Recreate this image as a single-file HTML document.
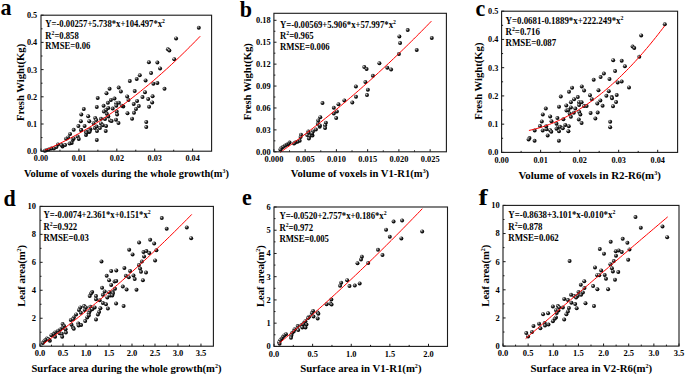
<!DOCTYPE html><html><head><meta charset="utf-8"><style>html,body{margin:0;padding:0;background:#fff;}svg{display:block;}</style></head><body>
<svg width="685" height="375" viewBox="0 0 685 375" font-family='"Liberation Serif", serif' font-weight="bold">
<defs><radialGradient id="g" cx="0.42" cy="0.4" r="0.6" fx="0.33" fy="0.3"><stop offset="0" stop-color="#e8e8e8"/><stop offset="0.3" stop-color="#6a6a6a"/><stop offset="0.65" stop-color="#141414"/><stop offset="1" stop-color="#000"/></radialGradient></defs>
<rect width="685" height="375" fill="#fff"/>
<g><circle cx="198.8" cy="27.7" r="1.98" fill="url(#g)"/><circle cx="176.1" cy="38.4" r="1.98" fill="url(#g)"/><circle cx="167.9" cy="49.3" r="1.98" fill="url(#g)"/><circle cx="169.4" cy="50.4" r="1.98" fill="url(#g)"/><circle cx="174.3" cy="59.3" r="1.98" fill="url(#g)"/><circle cx="148.9" cy="62.2" r="1.98" fill="url(#g)"/><circle cx="157.4" cy="62.6" r="1.98" fill="url(#g)"/><circle cx="160.1" cy="68.4" r="1.98" fill="url(#g)"/><circle cx="151.1" cy="73.1" r="1.98" fill="url(#g)"/><circle cx="139.8" cy="75.3" r="1.98" fill="url(#g)"/><circle cx="136.7" cy="78.9" r="1.98" fill="url(#g)"/><circle cx="129.8" cy="81.1" r="1.98" fill="url(#g)"/><circle cx="145.6" cy="80.4" r="1.98" fill="url(#g)"/><circle cx="153.4" cy="83.7" r="1.98" fill="url(#g)"/><circle cx="157.4" cy="82.9" r="1.98" fill="url(#g)"/><circle cx="109.6" cy="88.7" r="1.98" fill="url(#g)"/><circle cx="106.5" cy="93.3" r="1.98" fill="url(#g)"/><circle cx="118.7" cy="87.6" r="1.98" fill="url(#g)"/><circle cx="120.9" cy="91.6" r="1.98" fill="url(#g)"/><circle cx="164.5" cy="88.8" r="1.98" fill="url(#g)"/><circle cx="134.7" cy="91.1" r="1.98" fill="url(#g)"/><circle cx="145.0" cy="92.3" r="1.98" fill="url(#g)"/><circle cx="127.2" cy="96.5" r="1.98" fill="url(#g)"/><circle cx="142.5" cy="97.1" r="1.98" fill="url(#g)"/><circle cx="152.6" cy="96.3" r="1.98" fill="url(#g)"/><circle cx="148.2" cy="99.0" r="1.98" fill="url(#g)"/><circle cx="128.5" cy="99.9" r="1.98" fill="url(#g)"/><circle cx="137.1" cy="100.9" r="1.98" fill="url(#g)"/><circle cx="133.7" cy="104.0" r="1.98" fill="url(#g)"/><circle cx="152.2" cy="102.4" r="1.98" fill="url(#g)"/><circle cx="138.8" cy="106.1" r="1.98" fill="url(#g)"/><circle cx="136.0" cy="109.0" r="1.98" fill="url(#g)"/><circle cx="149.1" cy="106.8" r="1.98" fill="url(#g)"/><circle cx="127.5" cy="113.3" r="1.98" fill="url(#g)"/><circle cx="134.0" cy="112.8" r="1.98" fill="url(#g)"/><circle cx="132.1" cy="118.7" r="1.98" fill="url(#g)"/><circle cx="146.3" cy="122.0" r="1.98" fill="url(#g)"/><circle cx="146.3" cy="127.1" r="1.98" fill="url(#g)"/><circle cx="97.7" cy="97.9" r="1.98" fill="url(#g)"/><circle cx="110.9" cy="99.9" r="1.98" fill="url(#g)"/><circle cx="114.5" cy="98.6" r="1.98" fill="url(#g)"/><circle cx="107.9" cy="102.8" r="1.98" fill="url(#g)"/><circle cx="116.3" cy="103.2" r="1.98" fill="url(#g)"/><circle cx="118.9" cy="102.7" r="1.98" fill="url(#g)"/><circle cx="103.6" cy="105.7" r="1.98" fill="url(#g)"/><circle cx="96.8" cy="107.0" r="1.98" fill="url(#g)"/><circle cx="83.8" cy="109.0" r="1.98" fill="url(#g)"/><circle cx="108.3" cy="107.9" r="1.98" fill="url(#g)"/><circle cx="112.7" cy="108.6" r="1.98" fill="url(#g)"/><circle cx="116.3" cy="105.7" r="1.98" fill="url(#g)"/><circle cx="123.3" cy="106.5" r="1.98" fill="url(#g)"/><circle cx="121.8" cy="105.7" r="1.98" fill="url(#g)"/><circle cx="106.1" cy="110.1" r="1.98" fill="url(#g)"/><circle cx="103.9" cy="111.6" r="1.98" fill="url(#g)"/><circle cx="116.7" cy="111.6" r="1.98" fill="url(#g)"/><circle cx="117.1" cy="114.5" r="1.98" fill="url(#g)"/><circle cx="81.3" cy="114.5" r="1.98" fill="url(#g)"/><circle cx="88.2" cy="116.3" r="1.98" fill="url(#g)"/><circle cx="106.8" cy="113.8" r="1.98" fill="url(#g)"/><circle cx="95.2" cy="117.9" r="1.98" fill="url(#g)"/><circle cx="96.3" cy="120.1" r="1.98" fill="url(#g)"/><circle cx="101.0" cy="118.8" r="1.98" fill="url(#g)"/><circle cx="105.0" cy="119.0" r="1.98" fill="url(#g)"/><circle cx="108.3" cy="116.4" r="1.98" fill="url(#g)"/><circle cx="110.1" cy="120.4" r="1.98" fill="url(#g)"/><circle cx="111.6" cy="121.0" r="1.98" fill="url(#g)"/><circle cx="116.0" cy="119.7" r="1.98" fill="url(#g)"/><circle cx="118.5" cy="123.0" r="1.98" fill="url(#g)"/><circle cx="80.9" cy="121.2" r="1.98" fill="url(#g)"/><circle cx="89.3" cy="121.2" r="1.98" fill="url(#g)"/><circle cx="93.7" cy="123.3" r="1.98" fill="url(#g)"/><circle cx="101.0" cy="123.4" r="1.98" fill="url(#g)"/><circle cx="102.8" cy="125.2" r="1.98" fill="url(#g)"/><circle cx="106.1" cy="125.9" r="1.98" fill="url(#g)"/><circle cx="84.6" cy="125.9" r="1.98" fill="url(#g)"/><circle cx="94.8" cy="128.1" r="1.98" fill="url(#g)"/><circle cx="96.6" cy="126.6" r="1.98" fill="url(#g)"/><circle cx="99.9" cy="128.1" r="1.98" fill="url(#g)"/><circle cx="90.4" cy="129.2" r="1.98" fill="url(#g)"/><circle cx="97.0" cy="131.0" r="1.98" fill="url(#g)"/><circle cx="105.7" cy="131.0" r="1.98" fill="url(#g)"/><circle cx="81.3" cy="129.9" r="1.98" fill="url(#g)"/><circle cx="86.0" cy="131.7" r="1.98" fill="url(#g)"/><circle cx="89.0" cy="132.1" r="1.98" fill="url(#g)"/><circle cx="86.0" cy="135.0" r="1.98" fill="url(#g)"/><circle cx="78.4" cy="126.1" r="1.98" fill="url(#g)"/><circle cx="73.7" cy="129.8" r="1.98" fill="url(#g)"/><circle cx="81.0" cy="130.1" r="1.98" fill="url(#g)"/><circle cx="86.5" cy="132.7" r="1.98" fill="url(#g)"/><circle cx="89.4" cy="130.1" r="1.98" fill="url(#g)"/><circle cx="77.7" cy="136.4" r="1.98" fill="url(#g)"/><circle cx="78.8" cy="138.9" r="1.98" fill="url(#g)"/><circle cx="96.8" cy="140.0" r="1.98" fill="url(#g)"/><circle cx="89.7" cy="131.6" r="1.98" fill="url(#g)"/><circle cx="70.1" cy="133.9" r="1.98" fill="url(#g)"/><circle cx="68.1" cy="137.5" r="1.98" fill="url(#g)"/><circle cx="66.1" cy="138.7" r="1.98" fill="url(#g)"/><circle cx="72.7" cy="140.0" r="1.98" fill="url(#g)"/><circle cx="71.7" cy="143.0" r="1.98" fill="url(#g)"/><circle cx="69.6" cy="143.6" r="1.98" fill="url(#g)"/><circle cx="65.1" cy="145.1" r="1.98" fill="url(#g)"/><circle cx="62.5" cy="146.6" r="1.98" fill="url(#g)"/><circle cx="61.5" cy="145.1" r="1.98" fill="url(#g)"/><circle cx="58.0" cy="144.6" r="1.98" fill="url(#g)"/><circle cx="56.4" cy="147.1" r="1.98" fill="url(#g)"/><circle cx="53.9" cy="148.6" r="1.98" fill="url(#g)"/><circle cx="51.4" cy="148.6" r="1.98" fill="url(#g)"/><circle cx="48.8" cy="149.6" r="1.98" fill="url(#g)"/><circle cx="46.3" cy="150.2" r="1.98" fill="url(#g)"/><circle cx="44.8" cy="150.7" r="1.98" fill="url(#g)"/><circle cx="73.7" cy="138.5" r="1.98" fill="url(#g)"/><polyline points="44.79,150.31 47.38,149.19 49.97,148.05 52.56,146.87 55.15,145.68 57.74,144.45 60.33,143.20 62.93,141.92 65.52,140.62 68.11,139.29 70.70,137.93 73.29,136.55 75.88,135.13 78.47,133.70 81.06,132.23 83.65,130.74 86.24,129.23 88.83,127.68 91.42,126.11 94.01,124.52 96.60,122.89 99.19,121.24 101.78,119.57 104.37,117.87 106.97,116.14 109.56,114.38 112.15,112.60 114.74,110.79 117.33,108.95 119.92,107.09 122.51,105.20 125.10,103.29 127.69,101.35 130.28,99.38 132.87,97.39 135.46,95.36 138.05,93.32 140.64,91.24 143.23,89.14 145.82,87.01 148.41,84.86 151.01,82.68 153.60,80.47 156.19,78.24 158.78,75.98 161.37,73.69 163.96,71.38 166.55,69.04 169.14,66.67 171.73,64.28 174.32,61.86 176.91,59.42 179.50,56.94 182.09,54.45 184.68,51.92 187.27,49.37 189.86,46.79 192.45,44.18 195.05,41.55 197.64,38.89 200.23,36.21" fill="none" stroke="#ff0000" stroke-width="1"/><rect x="41" y="15.2" width="170.60" height="136.00" fill="none" stroke="#1a1a1a" stroke-width="1.1"/><path d="M41.00,151.2v-2.6M78.91,151.2v-2.6M116.82,151.2v-2.6M154.73,151.2v-2.6M192.64,151.2v-2.6M59.96,151.2v-1.5M97.87,151.2v-1.5M135.78,151.2v-1.5M173.69,151.2v-1.5M41,151.20h2.6M41,124.00h2.6M41,96.80h2.6M41,69.60h2.6M41,42.40h2.6M41,15.20h2.6M41,137.60h1.5M41,110.40h1.5M41,83.20h1.5M41,56.00h1.5M41,28.80h1.5" stroke="#1a1a1a" stroke-width="1" fill="none"/><text x="41.00" y="161.40" font-size="8.2" text-anchor="middle">0.00</text><text x="78.91" y="161.40" font-size="8.2" text-anchor="middle">0.01</text><text x="116.82" y="161.40" font-size="8.2" text-anchor="middle">0.02</text><text x="154.73" y="161.40" font-size="8.2" text-anchor="middle">0.03</text><text x="192.64" y="161.40" font-size="8.2" text-anchor="middle">0.04</text><text x="37.20" y="154.10" font-size="8.2" text-anchor="end">0.0</text><text x="37.20" y="126.90" font-size="8.2" text-anchor="end">0.1</text><text x="37.20" y="99.70" font-size="8.2" text-anchor="end">0.2</text><text x="37.20" y="72.50" font-size="8.2" text-anchor="end">0.3</text><text x="37.20" y="45.30" font-size="8.2" text-anchor="end">0.4</text><text x="37.20" y="18.10" font-size="8.2" text-anchor="end">0.5</text><text transform="translate(45.3,26.6) scale(1,1.1)" font-size="8.65">Y=-0.00257+5.738*x+104.497*x<tspan font-size="5.71" dy="-3.46">2</tspan></text><text transform="translate(45.3,38.5) scale(1,1.1)" font-size="8.65">R<tspan font-size="5.71" dy="-3.46">2</tspan><tspan dy="3.46">=0.858</tspan></text><text transform="translate(45.3,49.2) scale(1,1.1)" font-size="8.65">RMSE=0.06</text><text x="23.9" y="176.7" font-size="10.4">Volume of voxels during the whole growth(m<tspan font-size="5.82" dy="-3.74">3</tspan><tspan dy="3.74">)</tspan></text><text transform="translate(24.4,82.4) rotate(-90)" x="0" y="0" font-size="10.65" text-anchor="middle">Fresh Wight(Kg)</text><text transform="translate(0.5,14.8) scale(1,1.07)" font-size="22">a</text></g>
<g><circle cx="407.7" cy="30.1" r="1.98" fill="url(#g)"/><circle cx="399.4" cy="36.4" r="1.98" fill="url(#g)"/><circle cx="400.1" cy="43.0" r="1.98" fill="url(#g)"/><circle cx="431.8" cy="37.9" r="1.98" fill="url(#g)"/><circle cx="416.7" cy="49.9" r="1.98" fill="url(#g)"/><circle cx="398.9" cy="54.0" r="1.98" fill="url(#g)"/><circle cx="379.4" cy="63.3" r="1.98" fill="url(#g)"/><circle cx="364.3" cy="67.1" r="1.98" fill="url(#g)"/><circle cx="366.6" cy="69.0" r="1.98" fill="url(#g)"/><circle cx="387.3" cy="67.7" r="1.98" fill="url(#g)"/><circle cx="391.1" cy="69.6" r="1.98" fill="url(#g)"/><circle cx="372.9" cy="75.8" r="1.98" fill="url(#g)"/><circle cx="365.4" cy="82.0" r="1.98" fill="url(#g)"/><circle cx="355.9" cy="86.5" r="1.98" fill="url(#g)"/><circle cx="367.9" cy="89.7" r="1.98" fill="url(#g)"/><circle cx="367.0" cy="95.1" r="1.98" fill="url(#g)"/><circle cx="356.0" cy="96.8" r="1.98" fill="url(#g)"/><circle cx="344.4" cy="100.5" r="1.98" fill="url(#g)"/><circle cx="352.3" cy="102.6" r="1.98" fill="url(#g)"/><circle cx="322.5" cy="103.0" r="1.98" fill="url(#g)"/><circle cx="338.5" cy="104.2" r="1.98" fill="url(#g)"/><circle cx="333.8" cy="107.7" r="1.98" fill="url(#g)"/><circle cx="336.9" cy="111.4" r="1.98" fill="url(#g)"/><circle cx="333.8" cy="113.6" r="1.98" fill="url(#g)"/><circle cx="336.2" cy="118.0" r="1.98" fill="url(#g)"/><circle cx="320.3" cy="117.2" r="1.98" fill="url(#g)"/><circle cx="318.2" cy="120.6" r="1.98" fill="url(#g)"/><circle cx="325.9" cy="122.7" r="1.98" fill="url(#g)"/><circle cx="317.8" cy="123.7" r="1.98" fill="url(#g)"/><circle cx="319.7" cy="126.8" r="1.98" fill="url(#g)"/><circle cx="325.1" cy="125.3" r="1.98" fill="url(#g)"/><circle cx="325.1" cy="127.9" r="1.98" fill="url(#g)"/><circle cx="315.9" cy="129.6" r="1.98" fill="url(#g)"/><circle cx="308.4" cy="131.6" r="1.98" fill="url(#g)"/><circle cx="319.9" cy="125.4" r="1.98" fill="url(#g)"/><circle cx="312.9" cy="131.6" r="1.98" fill="url(#g)"/><circle cx="308.5" cy="132.9" r="1.98" fill="url(#g)"/><circle cx="307.2" cy="135.1" r="1.98" fill="url(#g)"/><circle cx="309.8" cy="136.0" r="1.98" fill="url(#g)"/><circle cx="312.5" cy="135.6" r="1.98" fill="url(#g)"/><circle cx="308.9" cy="138.6" r="1.98" fill="url(#g)"/><circle cx="312.0" cy="133.4" r="1.98" fill="url(#g)"/><circle cx="301.0" cy="134.7" r="1.98" fill="url(#g)"/><circle cx="300.6" cy="136.9" r="1.98" fill="url(#g)"/><circle cx="299.7" cy="140.8" r="1.98" fill="url(#g)"/><circle cx="297.5" cy="141.7" r="1.98" fill="url(#g)"/><circle cx="295.3" cy="142.6" r="1.98" fill="url(#g)"/><circle cx="294.0" cy="143.5" r="1.98" fill="url(#g)"/><circle cx="289.6" cy="142.6" r="1.98" fill="url(#g)"/><circle cx="288.3" cy="143.9" r="1.98" fill="url(#g)"/><circle cx="286.5" cy="144.8" r="1.98" fill="url(#g)"/><circle cx="284.8" cy="145.7" r="1.98" fill="url(#g)"/><circle cx="283.0" cy="147.0" r="1.98" fill="url(#g)"/><circle cx="281.2" cy="148.3" r="1.98" fill="url(#g)"/><circle cx="280.4" cy="149.6" r="1.98" fill="url(#g)"/><polyline points="280.15,152.40 282.67,150.62 285.19,148.82 287.71,147.02 290.23,145.19 292.75,143.36 295.27,141.51 297.80,139.64 300.32,137.76 302.84,135.87 305.36,133.97 307.88,132.05 310.40,130.12 312.92,128.17 315.44,126.21 317.96,124.24 320.48,122.25 323.00,120.25 325.52,118.23 328.05,116.20 330.57,114.16 333.09,112.10 335.61,110.03 338.13,107.95 340.65,105.85 343.17,103.74 345.69,101.61 348.21,99.47 350.73,97.32 353.25,95.15 355.77,92.97 358.30,90.77 360.82,88.57 363.34,86.34 365.86,84.11 368.38,81.86 370.90,79.59 373.42,77.32 375.94,75.03 378.46,72.72 380.98,70.40 383.50,68.07 386.02,65.72 388.55,63.36 391.07,60.99 393.59,58.60 396.11,56.20 398.63,53.79 401.15,51.36 403.67,48.91 406.19,46.46 408.71,43.99 411.23,41.50 413.75,39.00 416.27,36.49 418.80,33.97 421.32,31.43 423.84,28.88 426.36,26.31 428.88,23.73 431.40,21.13" fill="none" stroke="#ff0000" stroke-width="1"/><rect x="273.9" y="13.3" width="172.50" height="138.50" fill="none" stroke="#1a1a1a" stroke-width="1.1"/><path d="M273.90,151.8v-2.6M305.15,151.8v-2.6M336.40,151.8v-2.6M367.65,151.8v-2.6M398.90,151.8v-2.6M430.15,151.8v-2.6M289.52,151.8v-1.5M320.77,151.8v-1.5M352.02,151.8v-1.5M383.27,151.8v-1.5M414.52,151.8v-1.5M273.9,151.80h2.6M273.9,129.89h2.6M273.9,107.97h2.6M273.9,86.06h2.6M273.9,64.14h2.6M273.9,42.23h2.6M273.9,20.31h2.6M273.9,140.84h1.5M273.9,118.93h1.5M273.9,97.01h1.5M273.9,75.10h1.5M273.9,53.18h1.5M273.9,31.27h1.5" stroke="#1a1a1a" stroke-width="1" fill="none"/><text x="273.90" y="162.00" font-size="8.4" text-anchor="middle">0.000</text><text x="305.15" y="162.00" font-size="8.4" text-anchor="middle">0.005</text><text x="336.40" y="162.00" font-size="8.4" text-anchor="middle">0.010</text><text x="367.65" y="162.00" font-size="8.4" text-anchor="middle">0.015</text><text x="398.90" y="162.00" font-size="8.4" text-anchor="middle">0.020</text><text x="430.15" y="162.00" font-size="8.4" text-anchor="middle">0.025</text><text x="270.60" y="154.70" font-size="8.4" text-anchor="end">0.00</text><text x="270.60" y="132.79" font-size="8.4" text-anchor="end">0.03</text><text x="270.60" y="110.87" font-size="8.4" text-anchor="end">0.06</text><text x="270.60" y="88.96" font-size="8.4" text-anchor="end">0.09</text><text x="270.60" y="67.04" font-size="8.4" text-anchor="end">0.12</text><text x="270.60" y="45.13" font-size="8.4" text-anchor="end">0.15</text><text x="270.60" y="23.21" font-size="8.4" text-anchor="end">0.18</text><text transform="translate(280.0,27.5) scale(1,1.1)" font-size="8.7">Y=-0.00569+5.906*x+57.997*x<tspan font-size="5.74" dy="-3.48">2</tspan></text><text transform="translate(280.0,39.2) scale(1,1.1)" font-size="8.7">R<tspan font-size="5.74" dy="-3.48">2</tspan><tspan dy="3.48">=0.965</tspan></text><text transform="translate(280.0,50.0) scale(1,1.1)" font-size="8.7">RMSE=0.006</text><text x="290.8" y="177.0" font-size="10.6">Volume of voxels in V1-R1(m<tspan font-size="5.94" dy="-3.82">3</tspan><tspan dy="3.82">)</tspan></text><text transform="translate(251.4,81.7) rotate(-90)" x="0" y="0" font-size="10.65" text-anchor="middle">Fresh Wight(Kg)</text><text transform="translate(239.8,16.5) scale(1,1.07)" font-size="22">b</text></g>
<g><circle cx="664.8" cy="24.3" r="1.98" fill="url(#g)"/><circle cx="641.2" cy="35.4" r="1.98" fill="url(#g)"/><circle cx="632.6" cy="46.5" r="1.98" fill="url(#g)"/><circle cx="634.3" cy="47.9" r="1.98" fill="url(#g)"/><circle cx="639.3" cy="56.8" r="1.98" fill="url(#g)"/><circle cx="613.2" cy="60.2" r="1.98" fill="url(#g)"/><circle cx="621.7" cy="60.7" r="1.98" fill="url(#g)"/><circle cx="624.9" cy="66.3" r="1.98" fill="url(#g)"/><circle cx="615.1" cy="71.1" r="1.98" fill="url(#g)"/><circle cx="603.9" cy="73.6" r="1.98" fill="url(#g)"/><circle cx="600.6" cy="77.1" r="1.98" fill="url(#g)"/><circle cx="609.5" cy="79.0" r="1.98" fill="url(#g)"/><circle cx="593.7" cy="79.7" r="1.98" fill="url(#g)"/><circle cx="617.7" cy="82.4" r="1.98" fill="url(#g)"/><circle cx="621.7" cy="81.5" r="1.98" fill="url(#g)"/><circle cx="629.0" cy="87.4" r="1.98" fill="url(#g)"/><circle cx="572.1" cy="87.7" r="1.98" fill="url(#g)"/><circle cx="581.8" cy="86.4" r="1.98" fill="url(#g)"/><circle cx="584.1" cy="90.6" r="1.98" fill="url(#g)"/><circle cx="569.0" cy="91.8" r="1.98" fill="url(#g)"/><circle cx="598.5" cy="90.2" r="1.98" fill="url(#g)"/><circle cx="608.8" cy="91.2" r="1.98" fill="url(#g)"/><circle cx="590.0" cy="95.3" r="1.98" fill="url(#g)"/><circle cx="606.4" cy="95.8" r="1.98" fill="url(#g)"/><circle cx="616.7" cy="95.0" r="1.98" fill="url(#g)"/><circle cx="611.7" cy="97.1" r="1.98" fill="url(#g)"/><circle cx="577.8" cy="97.1" r="1.98" fill="url(#g)"/><circle cx="560.8" cy="96.6" r="1.98" fill="url(#g)"/><circle cx="574.1" cy="99.2" r="1.98" fill="url(#g)"/><circle cx="591.9" cy="99.2" r="1.98" fill="url(#g)"/><circle cx="612.0" cy="98.2" r="1.98" fill="url(#g)"/><circle cx="616.1" cy="102.0" r="1.98" fill="url(#g)"/><circle cx="600.4" cy="100.4" r="1.98" fill="url(#g)"/><circle cx="597.3" cy="103.6" r="1.98" fill="url(#g)"/><circle cx="602.6" cy="105.7" r="1.98" fill="url(#g)"/><circle cx="613.0" cy="106.3" r="1.98" fill="url(#g)"/><circle cx="570.9" cy="102.3" r="1.98" fill="url(#g)"/><circle cx="579.1" cy="102.3" r="1.98" fill="url(#g)"/><circle cx="581.6" cy="102.3" r="1.98" fill="url(#g)"/><circle cx="579.1" cy="105.1" r="1.98" fill="url(#g)"/><circle cx="584.1" cy="106.1" r="1.98" fill="url(#g)"/><circle cx="586.6" cy="106.1" r="1.98" fill="url(#g)"/><circle cx="566.3" cy="105.5" r="1.98" fill="url(#g)"/><circle cx="559.0" cy="106.7" r="1.98" fill="url(#g)"/><circle cx="545.8" cy="108.6" r="1.98" fill="url(#g)"/><circle cx="570.9" cy="107.4" r="1.98" fill="url(#g)"/><circle cx="575.3" cy="108.6" r="1.98" fill="url(#g)"/><circle cx="566.5" cy="110.5" r="1.98" fill="url(#g)"/><circle cx="568.4" cy="109.9" r="1.98" fill="url(#g)"/><circle cx="569.7" cy="113.6" r="1.98" fill="url(#g)"/><circle cx="573.8" cy="112.7" r="1.98" fill="url(#g)"/><circle cx="579.3" cy="112.0" r="1.98" fill="url(#g)"/><circle cx="580.4" cy="114.5" r="1.98" fill="url(#g)"/><circle cx="570.9" cy="116.8" r="1.98" fill="url(#g)"/><circle cx="590.6" cy="113.0" r="1.98" fill="url(#g)"/><circle cx="597.7" cy="112.6" r="1.98" fill="url(#g)"/><circle cx="595.4" cy="118.6" r="1.98" fill="url(#g)"/><circle cx="578.8" cy="119.5" r="1.98" fill="url(#g)"/><circle cx="581.6" cy="123.0" r="1.98" fill="url(#g)"/><circle cx="610.2" cy="121.8" r="1.98" fill="url(#g)"/><circle cx="610.2" cy="127.2" r="1.98" fill="url(#g)"/><circle cx="550.2" cy="116.4" r="1.98" fill="url(#g)"/><circle cx="557.4" cy="118.0" r="1.98" fill="url(#g)"/><circle cx="563.4" cy="119.3" r="1.98" fill="url(#g)"/><circle cx="551.5" cy="121.2" r="1.98" fill="url(#g)"/><circle cx="556.5" cy="123.7" r="1.98" fill="url(#g)"/><circle cx="565.3" cy="124.9" r="1.98" fill="url(#g)"/><circle cx="568.8" cy="126.2" r="1.98" fill="url(#g)"/><circle cx="557.8" cy="127.4" r="1.98" fill="url(#g)"/><circle cx="560.0" cy="126.8" r="1.98" fill="url(#g)"/><circle cx="562.8" cy="128.3" r="1.98" fill="url(#g)"/><circle cx="556.5" cy="128.7" r="1.98" fill="url(#g)"/><circle cx="546.5" cy="129.3" r="1.98" fill="url(#g)"/><circle cx="550.2" cy="130.3" r="1.98" fill="url(#g)"/><circle cx="559.0" cy="131.2" r="1.98" fill="url(#g)"/><circle cx="568.4" cy="131.2" r="1.98" fill="url(#g)"/><circle cx="547.7" cy="135.4" r="1.98" fill="url(#g)"/><circle cx="542.8" cy="114.4" r="1.98" fill="url(#g)"/><circle cx="541.8" cy="121.4" r="1.98" fill="url(#g)"/><circle cx="540.0" cy="126.1" r="1.98" fill="url(#g)"/><circle cx="546.2" cy="126.2" r="1.98" fill="url(#g)"/><circle cx="534.7" cy="130.5" r="1.98" fill="url(#g)"/><circle cx="542.7" cy="130.5" r="1.98" fill="url(#g)"/><circle cx="529.5" cy="138.1" r="1.98" fill="url(#g)"/><circle cx="528.6" cy="139.4" r="1.98" fill="url(#g)"/><circle cx="534.6" cy="140.7" r="1.98" fill="url(#g)"/><circle cx="558.9" cy="140.7" r="1.98" fill="url(#g)"/><circle cx="551.3" cy="131.7" r="1.98" fill="url(#g)"/><polyline points="528.92,130.47 531.18,129.97 533.44,129.42 535.71,128.84 537.97,128.21 540.23,127.55 542.50,126.83 544.76,126.08 547.02,125.29 549.29,124.45 551.55,123.57 553.81,122.65 556.08,121.68 558.34,120.68 560.60,119.63 562.87,118.54 565.13,117.40 567.40,116.23 569.66,115.01 571.92,113.75 574.19,112.45 576.45,111.10 578.71,109.72 580.98,108.29 583.24,106.82 585.50,105.30 587.77,103.75 590.03,102.15 592.29,100.51 594.56,98.83 596.82,97.10 599.08,95.34 601.35,93.53 603.61,91.68 605.87,89.78 608.14,87.85 610.40,85.87 612.66,83.85 614.93,81.79 617.19,79.68 619.45,77.54 621.72,75.35 623.98,73.12 626.24,70.84 628.51,68.53 630.77,66.17 633.03,63.77 635.30,61.33 637.56,58.84 639.82,56.32 642.09,53.75 644.35,51.14 646.61,48.48 648.88,45.79 651.14,43.05 653.40,40.27 655.67,37.45 657.93,34.58 660.20,31.68 662.46,28.73 664.72,25.74" fill="none" stroke="#ff0000" stroke-width="1"/><rect x="501.6" y="11.2" width="176.00" height="141.20" fill="none" stroke="#1a1a1a" stroke-width="1.1"/><path d="M501.60,152.4v-2.6M540.62,152.4v-2.6M579.65,152.4v-2.6M618.67,152.4v-2.6M657.70,152.4v-2.6M521.11,152.4v-1.5M560.14,152.4v-1.5M599.16,152.4v-1.5M638.19,152.4v-1.5M501.6,152.40h2.6M501.6,124.16h2.6M501.6,95.92h2.6M501.6,67.68h2.6M501.6,39.44h2.6M501.6,11.20h2.6M501.6,138.28h1.5M501.6,110.04h1.5M501.6,81.80h1.5M501.6,53.56h1.5M501.6,25.32h1.5" stroke="#1a1a1a" stroke-width="1" fill="none"/><text x="501.60" y="162.60" font-size="8.2" text-anchor="middle">0.00</text><text x="540.62" y="162.60" font-size="8.2" text-anchor="middle">0.01</text><text x="579.65" y="162.60" font-size="8.2" text-anchor="middle">0.02</text><text x="618.67" y="162.60" font-size="8.2" text-anchor="middle">0.03</text><text x="657.70" y="162.60" font-size="8.2" text-anchor="middle">0.04</text><text x="498.30" y="155.30" font-size="8.2" text-anchor="end">0.0</text><text x="498.30" y="127.06" font-size="8.2" text-anchor="end">0.1</text><text x="498.30" y="98.82" font-size="8.2" text-anchor="end">0.2</text><text x="498.30" y="70.58" font-size="8.2" text-anchor="end">0.3</text><text x="498.30" y="42.34" font-size="8.2" text-anchor="end">0.4</text><text x="498.30" y="14.10" font-size="8.2" text-anchor="end">0.5</text><text transform="translate(505.5,23.6) scale(1,1.1)" font-size="8.9">Y=0.0681-0.1889*x+222.249*x<tspan font-size="5.87" dy="-3.56">2</tspan></text><text transform="translate(505.5,35.3) scale(1,1.1)" font-size="8.9">R<tspan font-size="5.87" dy="-3.56">2</tspan><tspan dy="3.56">=0.716</tspan></text><text transform="translate(505.5,46.3) scale(1,1.1)" font-size="8.9">RMSE=0.087</text><text x="518.4" y="178.6" font-size="10.9">Volume of voxels in R2-R6(m<tspan font-size="6.10" dy="-3.92">3</tspan><tspan dy="3.92">)</tspan></text><text transform="translate(482.4,81.1) rotate(-90)" x="0" y="0" font-size="10.65" text-anchor="middle">Fresh Wight(Kg)</text><text transform="translate(475.6,16) scale(1,1.07)" font-size="22">c</text></g>
<g><circle cx="161.8" cy="218.1" r="1.98" fill="url(#g)"/><circle cx="166.7" cy="228.7" r="1.98" fill="url(#g)"/><circle cx="186.8" cy="227.5" r="1.98" fill="url(#g)"/><circle cx="191.2" cy="238.2" r="1.98" fill="url(#g)"/><circle cx="150.2" cy="239.8" r="1.98" fill="url(#g)"/><circle cx="154.2" cy="243.6" r="1.98" fill="url(#g)"/><circle cx="139.1" cy="242.6" r="1.98" fill="url(#g)"/><circle cx="129.2" cy="249.7" r="1.98" fill="url(#g)"/><circle cx="143.5" cy="252.0" r="1.98" fill="url(#g)"/><circle cx="146.4" cy="251.1" r="1.98" fill="url(#g)"/><circle cx="149.3" cy="253.0" r="1.98" fill="url(#g)"/><circle cx="156.4" cy="250.3" r="1.98" fill="url(#g)"/><circle cx="132.6" cy="254.4" r="1.98" fill="url(#g)"/><circle cx="144.1" cy="256.4" r="1.98" fill="url(#g)"/><circle cx="155.1" cy="260.5" r="1.98" fill="url(#g)"/><circle cx="101.5" cy="261.5" r="1.98" fill="url(#g)"/><circle cx="141.9" cy="261.6" r="1.98" fill="url(#g)"/><circle cx="138.9" cy="265.0" r="1.98" fill="url(#g)"/><circle cx="140.1" cy="268.6" r="1.98" fill="url(#g)"/><circle cx="141.0" cy="271.8" r="1.98" fill="url(#g)"/><circle cx="146.0" cy="272.6" r="1.98" fill="url(#g)"/><circle cx="124.4" cy="267.9" r="1.98" fill="url(#g)"/><circle cx="130.1" cy="271.0" r="1.98" fill="url(#g)"/><circle cx="111.2" cy="271.0" r="1.98" fill="url(#g)"/><circle cx="116.3" cy="270.4" r="1.98" fill="url(#g)"/><circle cx="106.7" cy="275.8" r="1.98" fill="url(#g)"/><circle cx="125.9" cy="275.8" r="1.98" fill="url(#g)"/><circle cx="128.8" cy="277.2" r="1.98" fill="url(#g)"/><circle cx="133.5" cy="275.5" r="1.98" fill="url(#g)"/><circle cx="134.7" cy="279.1" r="1.98" fill="url(#g)"/><circle cx="142.9" cy="280.2" r="1.98" fill="url(#g)"/><circle cx="109.1" cy="280.2" r="1.98" fill="url(#g)"/><circle cx="114.6" cy="281.6" r="1.98" fill="url(#g)"/><circle cx="116.3" cy="281.0" r="1.98" fill="url(#g)"/><circle cx="111.2" cy="284.9" r="1.98" fill="url(#g)"/><circle cx="102.1" cy="287.8" r="1.98" fill="url(#g)"/><circle cx="115.0" cy="288.7" r="1.98" fill="url(#g)"/><circle cx="122.8" cy="286.6" r="1.98" fill="url(#g)"/><circle cx="126.6" cy="289.6" r="1.98" fill="url(#g)"/><circle cx="136.5" cy="289.7" r="1.98" fill="url(#g)"/><circle cx="104.7" cy="291.4" r="1.98" fill="url(#g)"/><circle cx="112.8" cy="292.1" r="1.98" fill="url(#g)"/><circle cx="92.2" cy="292.0" r="1.98" fill="url(#g)"/><circle cx="91.0" cy="293.6" r="1.98" fill="url(#g)"/><circle cx="89.7" cy="296.1" r="1.98" fill="url(#g)"/><circle cx="96.0" cy="296.1" r="1.98" fill="url(#g)"/><circle cx="96.0" cy="299.2" r="1.98" fill="url(#g)"/><circle cx="102.9" cy="294.8" r="1.98" fill="url(#g)"/><circle cx="109.2" cy="292.3" r="1.98" fill="url(#g)"/><circle cx="112.9" cy="293.6" r="1.98" fill="url(#g)"/><circle cx="110.4" cy="295.5" r="1.98" fill="url(#g)"/><circle cx="107.3" cy="297.4" r="1.98" fill="url(#g)"/><circle cx="112.3" cy="295.5" r="1.98" fill="url(#g)"/><circle cx="99.7" cy="300.2" r="1.98" fill="url(#g)"/><circle cx="102.9" cy="303.0" r="1.98" fill="url(#g)"/><circle cx="106.0" cy="304.3" r="1.98" fill="url(#g)"/><circle cx="107.9" cy="308.6" r="1.98" fill="url(#g)"/><circle cx="116.1" cy="303.6" r="1.98" fill="url(#g)"/><circle cx="123.6" cy="306.1" r="1.98" fill="url(#g)"/><circle cx="84.1" cy="306.1" r="1.98" fill="url(#g)"/><circle cx="80.3" cy="307.4" r="1.98" fill="url(#g)"/><circle cx="79.0" cy="309.9" r="1.98" fill="url(#g)"/><circle cx="85.9" cy="307.4" r="1.98" fill="url(#g)"/><circle cx="90.3" cy="306.8" r="1.98" fill="url(#g)"/><circle cx="94.7" cy="307.4" r="1.98" fill="url(#g)"/><circle cx="92.2" cy="309.3" r="1.98" fill="url(#g)"/><circle cx="84.7" cy="309.9" r="1.98" fill="url(#g)"/><circle cx="89.7" cy="311.2" r="1.98" fill="url(#g)"/><circle cx="100.4" cy="308.3" r="1.98" fill="url(#g)"/><circle cx="80.9" cy="312.8" r="1.98" fill="url(#g)"/><circle cx="88.8" cy="313.3" r="1.98" fill="url(#g)"/><circle cx="99.1" cy="312.0" r="1.98" fill="url(#g)"/><circle cx="97.9" cy="314.5" r="1.98" fill="url(#g)"/><circle cx="76.1" cy="314.4" r="1.98" fill="url(#g)"/><circle cx="73.9" cy="317.6" r="1.98" fill="url(#g)"/><circle cx="87.2" cy="317.4" r="1.98" fill="url(#g)"/><circle cx="88.8" cy="315.4" r="1.98" fill="url(#g)"/><circle cx="96.0" cy="319.6" r="1.98" fill="url(#g)"/><circle cx="85.2" cy="321.1" r="1.98" fill="url(#g)"/><circle cx="81.1" cy="325.1" r="1.98" fill="url(#g)"/><circle cx="70.8" cy="319.9" r="1.98" fill="url(#g)"/><circle cx="73.0" cy="319.1" r="1.98" fill="url(#g)"/><circle cx="78.3" cy="323.6" r="1.98" fill="url(#g)"/><circle cx="78.6" cy="325.5" r="1.98" fill="url(#g)"/><circle cx="73.0" cy="327.4" r="1.98" fill="url(#g)"/><circle cx="73.8" cy="328.8" r="1.98" fill="url(#g)"/><circle cx="71.5" cy="324.7" r="1.98" fill="url(#g)"/><circle cx="62.6" cy="324.0" r="1.98" fill="url(#g)"/><circle cx="64.1" cy="325.9" r="1.98" fill="url(#g)"/><circle cx="62.6" cy="327.7" r="1.98" fill="url(#g)"/><circle cx="65.6" cy="329.2" r="1.98" fill="url(#g)"/><circle cx="65.9" cy="332.6" r="1.98" fill="url(#g)"/><circle cx="60.3" cy="329.6" r="1.98" fill="url(#g)"/><circle cx="58.1" cy="330.7" r="1.98" fill="url(#g)"/><circle cx="59.6" cy="333.3" r="1.98" fill="url(#g)"/><circle cx="61.8" cy="333.7" r="1.98" fill="url(#g)"/><circle cx="62.2" cy="336.7" r="1.98" fill="url(#g)"/><circle cx="55.1" cy="332.6" r="1.98" fill="url(#g)"/><circle cx="53.6" cy="334.1" r="1.98" fill="url(#g)"/><circle cx="51.4" cy="335.2" r="1.98" fill="url(#g)"/><circle cx="55.1" cy="336.7" r="1.98" fill="url(#g)"/><circle cx="49.9" cy="340.8" r="1.98" fill="url(#g)"/><circle cx="46.9" cy="338.5" r="1.98" fill="url(#g)"/><circle cx="45.4" cy="340.0" r="1.98" fill="url(#g)"/><circle cx="43.9" cy="341.5" r="1.98" fill="url(#g)"/><circle cx="42.8" cy="343.0" r="1.98" fill="url(#g)"/><circle cx="48.4" cy="339.3" r="1.98" fill="url(#g)"/><polyline points="43.68,343.65 46.15,341.85 48.62,340.05 51.08,338.23 53.55,336.39 56.02,334.55 58.49,332.69 60.96,330.83 63.43,328.94 65.90,327.05 68.36,325.15 70.83,323.23 73.30,321.30 75.77,319.36 78.24,317.40 80.71,315.44 83.17,313.46 85.64,311.47 88.11,309.47 90.58,307.45 93.05,305.43 95.52,303.39 97.98,301.34 100.45,299.27 102.92,297.20 105.39,295.11 107.86,293.01 110.33,290.90 112.79,288.78 115.26,286.64 117.73,284.49 120.20,282.33 122.67,280.16 125.14,277.98 127.60,275.78 130.07,273.57 132.54,271.35 135.01,269.11 137.48,266.87 139.95,264.61 142.41,262.34 144.88,260.06 147.35,257.77 149.82,255.46 152.29,253.14 154.76,250.81 157.23,248.47 159.69,246.11 162.16,243.75 164.63,241.37 167.10,238.98 169.57,236.57 172.04,234.16 174.50,231.73 176.97,229.29 179.44,226.84 181.91,224.37 184.38,221.90 186.85,219.41 189.31,216.91 191.78,214.39" fill="none" stroke="#ff0000" stroke-width="1"/><rect x="40" y="206.4" width="173.40" height="139.80" fill="none" stroke="#1a1a1a" stroke-width="1.1"/><path d="M40.00,346.2v-2.6M63.00,346.2v-2.6M85.99,346.2v-2.6M108.99,346.2v-2.6M131.99,346.2v-2.6M154.99,346.2v-2.6M177.98,346.2v-2.6M200.98,346.2v-2.6M51.50,346.2v-1.5M74.50,346.2v-1.5M97.49,346.2v-1.5M120.49,346.2v-1.5M143.49,346.2v-1.5M166.49,346.2v-1.5M189.48,346.2v-1.5M40,346.20h2.6M40,318.24h2.6M40,290.28h2.6M40,262.32h2.6M40,234.36h2.6M40,206.40h2.6M40,332.22h1.5M40,304.26h1.5M40,276.30h1.5M40,248.34h1.5M40,220.38h1.5" stroke="#1a1a1a" stroke-width="1" fill="none"/><text x="40.00" y="356.45" font-size="8.5" text-anchor="middle">0.0</text><text x="63.00" y="356.45" font-size="8.5" text-anchor="middle">0.5</text><text x="85.99" y="356.45" font-size="8.5" text-anchor="middle">1.0</text><text x="108.99" y="356.45" font-size="8.5" text-anchor="middle">1.5</text><text x="131.99" y="356.45" font-size="8.5" text-anchor="middle">2.0</text><text x="154.99" y="356.45" font-size="8.5" text-anchor="middle">2.5</text><text x="177.98" y="356.45" font-size="8.5" text-anchor="middle">3.0</text><text x="200.98" y="356.45" font-size="8.5" text-anchor="middle">3.5</text><text x="36.10" y="349.10" font-size="8.5" text-anchor="end">0</text><text x="36.10" y="321.14" font-size="8.5" text-anchor="end">2</text><text x="36.10" y="293.18" font-size="8.5" text-anchor="end">4</text><text x="36.10" y="265.22" font-size="8.5" text-anchor="end">6</text><text x="36.10" y="237.26" font-size="8.5" text-anchor="end">8</text><text x="36.10" y="209.30" font-size="8.5" text-anchor="end">10</text><text transform="translate(43.5,218.2) scale(1,1.1)" font-size="8.7">Y=-0.0074+2.361*x+0.151*x<tspan font-size="5.74" dy="-3.48">2</tspan></text><text transform="translate(43.5,230.1) scale(1,1.1)" font-size="8.7">R<tspan font-size="5.74" dy="-3.48">2</tspan><tspan dy="3.48">=0.922</tspan></text><text transform="translate(43.5,241.0) scale(1,1.1)" font-size="8.7">RMSE=0.03</text><text x="31.4" y="371.5" font-size="10.6">Surface area during the whole growth(m<tspan font-size="5.94" dy="-3.82">2</tspan><tspan dy="3.82">)</tspan></text><text transform="translate(25.1,275.9) rotate(-90)" x="0" y="0" font-size="10.6" text-anchor="middle">Leaf area(m<tspan font-size="5.94" dy="-3.82">2</tspan><tspan dy="3.82">)</tspan></text><text transform="translate(3.4,206) scale(1,1.07)" font-size="22">d</text></g>
<g><circle cx="393.6" cy="221.6" r="1.98" fill="url(#g)"/><circle cx="402.1" cy="220.6" r="1.98" fill="url(#g)"/><circle cx="386.1" cy="229.7" r="1.98" fill="url(#g)"/><circle cx="389.8" cy="236.7" r="1.98" fill="url(#g)"/><circle cx="401.4" cy="238.4" r="1.98" fill="url(#g)"/><circle cx="422.2" cy="231.5" r="1.98" fill="url(#g)"/><circle cx="378.0" cy="249.8" r="1.98" fill="url(#g)"/><circle cx="382.5" cy="255.0" r="1.98" fill="url(#g)"/><circle cx="361.9" cy="256.7" r="1.98" fill="url(#g)"/><circle cx="361.0" cy="259.5" r="1.98" fill="url(#g)"/><circle cx="357.5" cy="263.2" r="1.98" fill="url(#g)"/><circle cx="368.2" cy="263.0" r="1.98" fill="url(#g)"/><circle cx="347.2" cy="280.2" r="1.98" fill="url(#g)"/><circle cx="341.2" cy="282.7" r="1.98" fill="url(#g)"/><circle cx="340.1" cy="285.8" r="1.98" fill="url(#g)"/><circle cx="349.5" cy="286.1" r="1.98" fill="url(#g)"/><circle cx="354.8" cy="285.6" r="1.98" fill="url(#g)"/><circle cx="359.7" cy="283.4" r="1.98" fill="url(#g)"/><circle cx="331.4" cy="299.5" r="1.98" fill="url(#g)"/><circle cx="326.6" cy="304.3" r="1.98" fill="url(#g)"/><circle cx="330.4" cy="303.6" r="1.98" fill="url(#g)"/><circle cx="331.6" cy="304.5" r="1.98" fill="url(#g)"/><circle cx="313.1" cy="310.9" r="1.98" fill="url(#g)"/><circle cx="311.8" cy="313.1" r="1.98" fill="url(#g)"/><circle cx="317.6" cy="312.4" r="1.98" fill="url(#g)"/><circle cx="318.4" cy="313.7" r="1.98" fill="url(#g)"/><circle cx="313.5" cy="316.6" r="1.98" fill="url(#g)"/><circle cx="317.7" cy="318.5" r="1.98" fill="url(#g)"/><circle cx="309.1" cy="316.7" r="1.98" fill="url(#g)"/><circle cx="308.0" cy="318.1" r="1.98" fill="url(#g)"/><circle cx="305.4" cy="321.3" r="1.98" fill="url(#g)"/><circle cx="304.0" cy="323.1" r="1.98" fill="url(#g)"/><circle cx="306.5" cy="324.6" r="1.98" fill="url(#g)"/><circle cx="301.5" cy="325.0" r="1.98" fill="url(#g)"/><circle cx="297.7" cy="326.1" r="1.98" fill="url(#g)"/><circle cx="303.2" cy="324.2" r="1.98" fill="url(#g)"/><circle cx="302.3" cy="327.4" r="1.98" fill="url(#g)"/><circle cx="305.5" cy="327.4" r="1.98" fill="url(#g)"/><circle cx="298.2" cy="330.1" r="1.98" fill="url(#g)"/><circle cx="294.6" cy="329.2" r="1.98" fill="url(#g)"/><circle cx="293.7" cy="331.4" r="1.98" fill="url(#g)"/><circle cx="291.9" cy="333.3" r="1.98" fill="url(#g)"/><circle cx="291.4" cy="335.5" r="1.98" fill="url(#g)"/><circle cx="291.0" cy="337.8" r="1.98" fill="url(#g)"/><circle cx="286.0" cy="334.2" r="1.98" fill="url(#g)"/><circle cx="284.2" cy="335.5" r="1.98" fill="url(#g)"/><circle cx="282.8" cy="336.9" r="1.98" fill="url(#g)"/><circle cx="281.5" cy="338.7" r="1.98" fill="url(#g)"/><circle cx="280.1" cy="340.5" r="1.98" fill="url(#g)"/><circle cx="279.2" cy="342.3" r="1.98" fill="url(#g)"/><circle cx="279.6" cy="343.7" r="1.98" fill="url(#g)"/><polyline points="279.41,343.10 281.79,341.11 284.17,339.10 286.55,337.09 288.93,335.06 291.32,333.03 293.70,330.99 296.08,328.95 298.46,326.89 300.84,324.83 303.23,322.76 305.61,320.68 307.99,318.59 310.37,316.49 312.75,314.39 315.13,312.27 317.52,310.15 319.90,308.02 322.28,305.89 324.66,303.74 327.04,301.59 329.43,299.42 331.81,297.25 334.19,295.08 336.57,292.89 338.95,290.69 341.33,288.49 343.72,286.28 346.10,284.06 348.48,281.83 350.86,279.60 353.24,277.35 355.63,275.10 358.01,272.84 360.39,270.57 362.77,268.29 365.15,266.01 367.53,263.71 369.92,261.41 372.30,259.10 374.68,256.78 377.06,254.46 379.44,252.12 381.83,249.78 384.21,247.43 386.59,245.07 388.97,242.70 391.35,240.33 393.74,237.94 396.12,235.55 398.50,233.15 400.88,230.74 403.26,228.32 405.64,225.90 408.03,223.47 410.41,221.02 412.79,218.57 415.17,216.12 417.55,213.65 419.94,211.18 422.32,208.69" fill="none" stroke="#ff0000" stroke-width="1"/><rect x="274" y="207" width="173.50" height="139.40" fill="none" stroke="#1a1a1a" stroke-width="1.1"/><path d="M274.00,346.4v-2.6M312.62,346.4v-2.6M351.25,346.4v-2.6M389.87,346.4v-2.6M428.50,346.4v-2.6M293.31,346.4v-1.5M331.94,346.4v-1.5M370.56,346.4v-1.5M409.18,346.4v-1.5M274,346.40h2.6M274,323.17h2.6M274,299.93h2.6M274,276.70h2.6M274,253.47h2.6M274,230.23h2.6M274,207.00h2.6M274,334.78h1.5M274,311.55h1.5M274,288.32h1.5M274,265.08h1.5M274,241.85h1.5M274,218.62h1.5" stroke="#1a1a1a" stroke-width="1" fill="none"/><text x="274.00" y="356.65" font-size="8.4" text-anchor="middle">0.0</text><text x="312.62" y="356.65" font-size="8.4" text-anchor="middle">0.5</text><text x="351.25" y="356.65" font-size="8.4" text-anchor="middle">1.0</text><text x="389.87" y="356.65" font-size="8.4" text-anchor="middle">1.5</text><text x="428.50" y="356.65" font-size="8.4" text-anchor="middle">2.0</text><text x="270.80" y="349.30" font-size="8.4" text-anchor="end">0</text><text x="270.80" y="326.07" font-size="8.4" text-anchor="end">1</text><text x="270.80" y="302.83" font-size="8.4" text-anchor="end">2</text><text x="270.80" y="279.60" font-size="8.4" text-anchor="end">3</text><text x="270.80" y="256.37" font-size="8.4" text-anchor="end">4</text><text x="270.80" y="233.13" font-size="8.4" text-anchor="end">5</text><text x="270.80" y="209.90" font-size="8.4" text-anchor="end">6</text><text transform="translate(279.4,219.3) scale(1,1.1)" font-size="8.7">Y=-0.0520+2.757*x+0.186*x<tspan font-size="5.74" dy="-3.48">2</tspan></text><text transform="translate(279.4,231.3) scale(1,1.1)" font-size="8.7">R<tspan font-size="5.74" dy="-3.48">2</tspan><tspan dy="3.48">=0.972</tspan></text><text transform="translate(279.4,242.1) scale(1,1.1)" font-size="8.7">RMSE=0.005</text><text x="300.3" y="372.2" font-size="10.75">Surface area in V1-R1(m<tspan font-size="6.02" dy="-3.87">2</tspan><tspan dy="3.87">)</tspan></text><text transform="translate(264.0,276.1) rotate(-90)" x="0" y="0" font-size="10.6" text-anchor="middle">Leaf area(m<tspan font-size="5.94" dy="-3.82">2</tspan><tspan dy="3.82">)</tspan></text><text transform="translate(242,205.2) scale(1,1.07)" font-size="22">e</text></g>
<g><circle cx="635.5" cy="217.1" r="1.98" fill="url(#g)"/><circle cx="640.8" cy="227.7" r="1.98" fill="url(#g)"/><circle cx="662.5" cy="226.5" r="1.98" fill="url(#g)"/><circle cx="667.2" cy="237.2" r="1.98" fill="url(#g)"/><circle cx="622.7" cy="238.8" r="1.98" fill="url(#g)"/><circle cx="627.4" cy="242.8" r="1.98" fill="url(#g)"/><circle cx="610.7" cy="241.8" r="1.98" fill="url(#g)"/><circle cx="599.8" cy="249.1" r="1.98" fill="url(#g)"/><circle cx="615.8" cy="251.2" r="1.98" fill="url(#g)"/><circle cx="618.7" cy="250.4" r="1.98" fill="url(#g)"/><circle cx="621.8" cy="252.0" r="1.98" fill="url(#g)"/><circle cx="629.5" cy="249.4" r="1.98" fill="url(#g)"/><circle cx="604.0" cy="253.7" r="1.98" fill="url(#g)"/><circle cx="616.0" cy="255.7" r="1.98" fill="url(#g)"/><circle cx="628.2" cy="259.8" r="1.98" fill="url(#g)"/><circle cx="569.6" cy="261.1" r="1.98" fill="url(#g)"/><circle cx="613.8" cy="261.1" r="1.98" fill="url(#g)"/><circle cx="610.4" cy="264.2" r="1.98" fill="url(#g)"/><circle cx="611.9" cy="268.3" r="1.98" fill="url(#g)"/><circle cx="612.9" cy="271.4" r="1.98" fill="url(#g)"/><circle cx="618.3" cy="272.0" r="1.98" fill="url(#g)"/><circle cx="595.0" cy="267.4" r="1.98" fill="url(#g)"/><circle cx="601.2" cy="270.5" r="1.98" fill="url(#g)"/><circle cx="597.2" cy="275.3" r="1.98" fill="url(#g)"/><circle cx="599.3" cy="275.3" r="1.98" fill="url(#g)"/><circle cx="604.7" cy="274.9" r="1.98" fill="url(#g)"/><circle cx="606.0" cy="278.7" r="1.98" fill="url(#g)"/><circle cx="615.0" cy="279.7" r="1.98" fill="url(#g)"/><circle cx="584.3" cy="281.3" r="1.98" fill="url(#g)"/><circle cx="580.8" cy="284.7" r="1.98" fill="url(#g)"/><circle cx="584.5" cy="288.1" r="1.98" fill="url(#g)"/><circle cx="593.1" cy="286.1" r="1.98" fill="url(#g)"/><circle cx="597.4" cy="289.3" r="1.98" fill="url(#g)"/><circle cx="608.1" cy="289.3" r="1.98" fill="url(#g)"/><circle cx="578.5" cy="291.9" r="1.98" fill="url(#g)"/><circle cx="582.9" cy="292.5" r="1.98" fill="url(#g)"/><circle cx="581.1" cy="294.8" r="1.98" fill="url(#g)"/><circle cx="577.6" cy="296.1" r="1.98" fill="url(#g)"/><circle cx="574.2" cy="296.1" r="1.98" fill="url(#g)"/><circle cx="571.1" cy="294.8" r="1.98" fill="url(#g)"/><circle cx="576.1" cy="297.6" r="1.98" fill="url(#g)"/><circle cx="564.2" cy="298.9" r="1.98" fill="url(#g)"/><circle cx="567.9" cy="300.1" r="1.98" fill="url(#g)"/><circle cx="571.4" cy="302.7" r="1.98" fill="url(#g)"/><circle cx="575.2" cy="304.0" r="1.98" fill="url(#g)"/><circle cx="585.5" cy="303.3" r="1.98" fill="url(#g)"/><circle cx="594.0" cy="306.1" r="1.98" fill="url(#g)"/><circle cx="576.7" cy="308.3" r="1.98" fill="url(#g)"/><circle cx="568.9" cy="308.0" r="1.98" fill="url(#g)"/><circle cx="567.9" cy="311.5" r="1.98" fill="url(#g)"/><circle cx="566.4" cy="314.3" r="1.98" fill="url(#g)"/><circle cx="564.2" cy="319.6" r="1.98" fill="url(#g)"/><circle cx="552.9" cy="306.5" r="1.98" fill="url(#g)"/><circle cx="557.9" cy="306.1" r="1.98" fill="url(#g)"/><circle cx="559.2" cy="307.4" r="1.98" fill="url(#g)"/><circle cx="562.9" cy="307.4" r="1.98" fill="url(#g)"/><circle cx="556.0" cy="310.3" r="1.98" fill="url(#g)"/><circle cx="558.5" cy="310.5" r="1.98" fill="url(#g)"/><circle cx="548.1" cy="313.3" r="1.98" fill="url(#g)"/><circle cx="543.1" cy="314.3" r="1.98" fill="url(#g)"/><circle cx="556.0" cy="317.4" r="1.98" fill="url(#g)"/><circle cx="554.7" cy="318.7" r="1.98" fill="url(#g)"/><circle cx="552.9" cy="321.2" r="1.98" fill="url(#g)"/><circle cx="539.1" cy="323.7" r="1.98" fill="url(#g)"/><circle cx="544.7" cy="323.1" r="1.98" fill="url(#g)"/><circle cx="548.5" cy="324.6" r="1.98" fill="url(#g)"/><circle cx="533.5" cy="325.9" r="1.98" fill="url(#g)"/><circle cx="545.0" cy="325.6" r="1.98" fill="url(#g)"/><circle cx="556.7" cy="312.9" r="1.98" fill="url(#g)"/><circle cx="540.4" cy="328.3" r="1.98" fill="url(#g)"/><circle cx="526.3" cy="333.1" r="1.98" fill="url(#g)"/><circle cx="532.0" cy="331.9" r="1.98" fill="url(#g)"/><circle cx="528.1" cy="336.4" r="1.98" fill="url(#g)"/><polyline points="525.63,338.65 528.00,336.60 530.36,334.55 532.73,332.51 535.10,330.46 537.47,328.41 539.83,326.37 542.20,324.33 544.57,322.28 546.94,320.24 549.30,318.20 551.67,316.15 554.04,314.11 556.41,312.07 558.78,310.03 561.14,307.99 563.51,305.95 565.88,303.92 568.25,301.88 570.61,299.84 572.98,297.81 575.35,295.77 577.72,293.74 580.08,291.70 582.45,289.67 584.82,287.63 587.19,285.60 589.55,283.57 591.92,281.54 594.29,279.51 596.66,277.48 599.02,275.45 601.39,273.42 603.76,271.39 606.13,269.37 608.50,267.34 610.86,265.31 613.23,263.29 615.60,261.26 617.97,259.24 620.33,257.21 622.70,255.19 625.07,253.17 627.44,251.15 629.80,249.13 632.17,247.10 634.54,245.08 636.91,243.07 639.27,241.05 641.64,239.03 644.01,237.01 646.38,234.99 648.74,232.98 651.11,230.96 653.48,228.95 655.85,226.93 658.22,224.92 660.58,222.91 662.95,220.89 665.32,218.88 667.69,216.87" fill="none" stroke="#ff0000" stroke-width="1"/><rect x="503" y="205.4" width="176.00" height="140.70" fill="none" stroke="#1a1a1a" stroke-width="1.1"/><path d="M503.00,346.1v-2.6M528.14,346.1v-2.6M553.29,346.1v-2.6M578.43,346.1v-2.6M603.57,346.1v-2.6M628.71,346.1v-2.6M653.86,346.1v-2.6M679.00,346.1v-2.6M515.57,346.1v-1.5M540.71,346.1v-1.5M565.86,346.1v-1.5M591.00,346.1v-1.5M616.14,346.1v-1.5M641.29,346.1v-1.5M666.43,346.1v-1.5M503,346.10h2.6M503,317.96h2.6M503,289.82h2.6M503,261.68h2.6M503,233.54h2.6M503,205.40h2.6M503,332.03h1.5M503,303.89h1.5M503,275.75h1.5M503,247.61h1.5M503,219.47h1.5" stroke="#1a1a1a" stroke-width="1" fill="none"/><text x="503.00" y="356.35" font-size="8.5" text-anchor="middle">0.0</text><text x="528.14" y="356.35" font-size="8.5" text-anchor="middle">0.5</text><text x="553.29" y="356.35" font-size="8.5" text-anchor="middle">1.0</text><text x="578.43" y="356.35" font-size="8.5" text-anchor="middle">1.5</text><text x="603.57" y="356.35" font-size="8.5" text-anchor="middle">2.0</text><text x="628.71" y="356.35" font-size="8.5" text-anchor="middle">2.5</text><text x="653.86" y="356.35" font-size="8.5" text-anchor="middle">3.0</text><text x="679.00" y="356.35" font-size="8.5" text-anchor="middle">3.5</text><text x="499.70" y="349.00" font-size="8.5" text-anchor="end">0</text><text x="499.70" y="320.86" font-size="8.5" text-anchor="end">2</text><text x="499.70" y="292.72" font-size="8.5" text-anchor="end">4</text><text x="499.70" y="264.58" font-size="8.5" text-anchor="end">6</text><text x="499.70" y="236.44" font-size="8.5" text-anchor="end">8</text><text x="499.70" y="208.30" font-size="8.5" text-anchor="end">10</text><text transform="translate(508.3,217.9) scale(1,1.1)" font-size="8.85">Y=-0.8638+3.101*x-0.010*x<tspan font-size="5.84" dy="-3.54">2</tspan></text><text transform="translate(508.3,229.7) scale(1,1.1)" font-size="8.85">R<tspan font-size="5.84" dy="-3.54">2</tspan><tspan dy="3.54">=0.878</tspan></text><text transform="translate(508.3,240.8) scale(1,1.1)" font-size="8.85">RMSE=0.062</text><text x="530.5" y="371.7" font-size="10.8">Surface area in V2-R6(m<tspan font-size="6.05" dy="-3.89">2</tspan><tspan dy="3.89">)</tspan></text><text transform="translate(488.5,275.7) rotate(-90)" x="0" y="0" font-size="10.6" text-anchor="middle">Leaf area(m<tspan font-size="5.94" dy="-3.82">2</tspan><tspan dy="3.82">)</tspan></text><text transform="translate(478.6,204.8) scale(1.26,1.05)" font-size="22">f</text></g>
</svg></body></html>
